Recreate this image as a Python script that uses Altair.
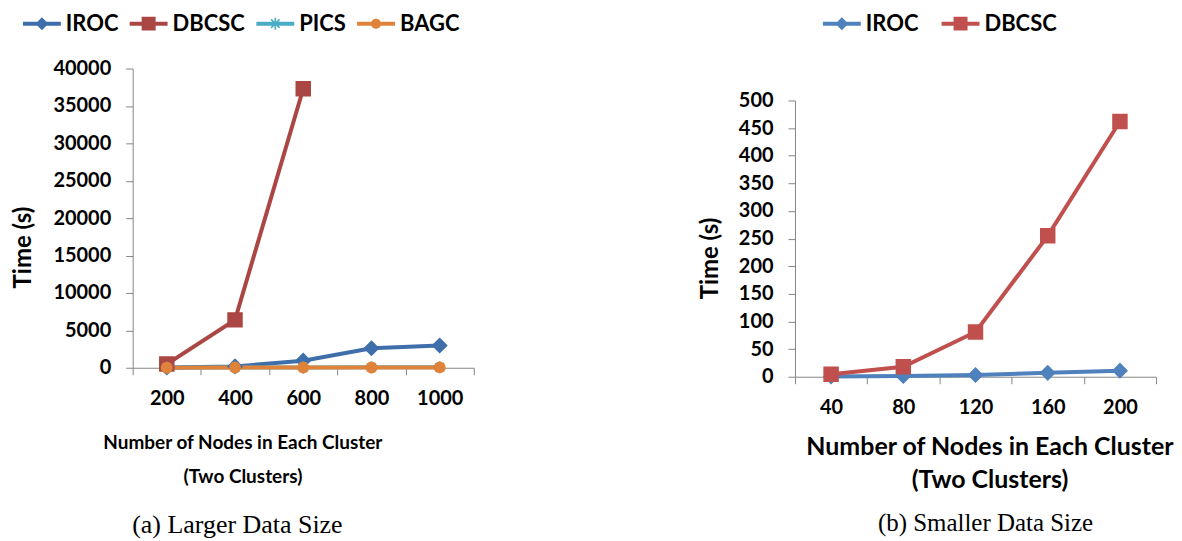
import altair as alt
import pandas as pd

# ---------------- data ----------------
series_left = ["IROC", "DBCSC", "PICS", "BAGC"]
nodes_left = ["200", "400", "600", "800", "1000"]
iroc_left = [50, 180, 950, 2600, 2980]
dbcsc_left = [490, 6400, 37300]
pics_left = [15, 25, 40, 55, 70]
bagc_left = [10, 20, 30, 40, 50]
colors_left = ["#3F6FAA", "#AA4643", "#4BACC6", "#E0833A"]
ticks_left = [0, 5000, 10000, 15000, 20000, 25000, 30000, 35000, 40000]

series_right = ["IROC", "DBCSC"]
nodes_right = ["40", "80", "120", "160", "200"]
iroc_right = [0.5, 1.5, 3, 7, 11]
dbcsc_right = [4.5, 18, 81, 255, 462]
colors_right = ["#4F81BD", "#C0504D"]
ticks_right = [0, 50, 100, 150, 200, 250, 300, 350, 400, 450, 500]

x_title = ["Number of Nodes in Each Cluster", "(Two Clusters)"]
y_title = "Time (s)"
caption_left = "(a) Larger Data Size"
caption_right = "(b) Smaller Data Size"


def rows(nodes, name, values):
    return [{"Nodes": n, "Series": name, "Time": v} for n, v in zip(nodes, values)]


df_left = pd.DataFrame(
    rows(nodes_left, "IROC", iroc_left)
    + rows(nodes_left, "DBCSC", dbcsc_left)
    + rows(nodes_left, "PICS", pics_left)
    + rows(nodes_left, "BAGC", bagc_left)
)
df_right = pd.DataFrame(
    rows(nodes_right, "IROC", iroc_right) + rows(nodes_right, "DBCSC", dbcsc_right)
)

FONT = "Lato"
AXIS_GRAY = "#868686"

# marker shapes for the plot (unit square, scaled by size)
P_DIAMOND = "diamond"
P_SQUARE = "square"
P_ASTER = "M-0.6,-0.6L0.6,0.6M-0.6,0.6L0.6,-0.6M0,-0.85L0,0.85"
P_CIRCLE = "M0.75,0A0.75,0.75,0,1,1,-0.75,0A0.75,0.75,0,1,1,0.75,0Z"
plot_shapes = {"IROC": P_DIAMOND, "DBCSC": P_SQUARE, "PICS": P_ASTER, "BAGC": P_CIRCLE}

# legend symbols: line segment + marker (size 400 -> 1 unit = 10px)
L_LINE = "M-1.9,-0.2L1.9,-0.2L1.9,0.2L-1.9,0.2Z"
L_DIAMOND = L_LINE + "M0,-0.65L0.65,0L0,0.65L-0.65,0Z"
L_SQUARE = L_LINE + "M-0.7,-0.7L0.7,-0.7L0.7,0.7L-0.7,0.7Z"
L_CIRCLE = L_LINE + "M0.5,0A0.5,0.5,0,1,1,-0.5,0A0.5,0.5,0,1,1,0.5,0Z"
L_ASTER = (
    L_LINE
    + "M-0.08,-0.6L0.08,-0.6L0.08,0.6L-0.08,0.6Z"
    + "M-0.367,-0.481L0.481,0.367L0.367,0.481L-0.481,-0.367Z"
    + "M-0.367,0.481L-0.481,0.367L0.367,-0.481L0.481,-0.367Z"
)
legend_shapes = {"IROC": L_DIAMOND, "DBCSC": L_SQUARE, "PICS": L_ASTER, "BAGC": L_CIRCLE}


def panel(df, nodes, series, colors, ticks, width, height, y_range, legend_x, legend_y,
          leg_gap, xt_x, xt_y, xt_size, xt_lh, yt_x, yt_y, label_pad_x, caption, cap_dx,
          cap_off, cap_size):
    x = alt.X(
        "Nodes:N",
        sort=nodes,
        bandPosition=0.5,
        scale=alt.Scale(type="band", domain=nodes, paddingInner=0, paddingOuter=0),
        axis=alt.Axis(
            title=x_title,
            titleFont=FONT, titleFontSize=xt_size, titleFontWeight="bold", titleColor="black",
            titleX=xt_x, titleY=xt_y, titleBaseline="top", titleAlign="center",
            titleLineHeight=xt_lh,
            labelFont=FONT, labelFontSize=20, labelFontWeight="bold", labelColor="black",
            labelAngle=0, labelPadding=label_pad_x,
            tickBand="extent", tickSize=7, tickColor=AXIS_GRAY, domainColor=AXIS_GRAY,
            grid=False,
        ),
    )
    y = alt.Y(
        "Time:Q",
        scale=alt.Scale(domain=[ticks[0], ticks[-1]], nice=False, range=y_range),
        axis=alt.Axis(
            values=ticks, format="d",
            title=y_title,
            titleFont=FONT, titleFontSize=24, titleFontWeight="bold", titleColor="black",
            titleX=yt_x, titleY=yt_y, titleAngle=270, titleBaseline="middle", titleAlign="center",
            labelFont=FONT, labelFontSize=20, labelFontWeight="bold", labelColor="black",
            labelPadding=15, tickSize=7, tickColor=AXIS_GRAY, domainColor=AXIS_GRAY,
            grid=False,
        ),
    )
    col_scale = alt.Scale(domain=series, range=colors)
    shp_plot = alt.Scale(domain=series, range=[plot_shapes[s] for s in series])
    shp_leg = alt.Scale(domain=series, range=[legend_shapes[s] for s in series])

    base = alt.Chart(df)
    lines = base.mark_line(strokeWidth=4).encode(
        x=x, y=y,
        color=alt.Color("Series:N", scale=col_scale, legend=None),
        order=alt.Order("Series:N"),
    )
    points = base.mark_point(filled=True, size=196, strokeWidth=1.5, opacity=1).encode(
        x=x, y=y,
        shape=alt.Shape("Series:N", scale=shp_plot, legend=None),
        fill=alt.Fill("Series:N", scale=col_scale, legend=None),
        stroke=alt.Stroke("Series:N", scale=col_scale, legend=None),
    )
    leg = alt.Legend(
        title=None, orient="none", legendX=legend_x, legendY=legend_y,
        direction="horizontal", symbolSize=400, symbolStrokeWidth=0,
        labelFont=FONT, labelFontSize=22, labelFontWeight="bold", labelColor="black",
        labelOffset=13, columnPadding=leg_gap, padding=0,
    )
    legend_layer = base.transform_filter("datum.Time < -1").mark_point(
        filled=True, opacity=1
    ).encode(
        x=x, y=y,
        shape=alt.Shape("Series:N", scale=shp_leg, legend=leg, sort=series),
        fill=alt.Fill("Series:N", scale=alt.Scale(domain=series, range=colors), legend=leg, sort=series),
    )
    return alt.layer(lines, points, legend_layer).resolve_scale(
        shape="independent", fill="independent", color="independent", stroke="independent"
    ).properties(
        width=width, height=height,
        title=alt.TitleParams(
            caption, orient="bottom", anchor="middle", font="Liberation Serif",
            fontSize=cap_size, fontWeight="normal", color="black", dx=cap_dx, offset=cap_off,
        ),
    )


left = panel(df_left, nodes_left, series_left, colors_left, ticks_left,
             342, 300, [300, 0], -102, -56, 11, 110, 66, 19, 34, -109, 179, 14,
             caption_left, -66, 26, 26)
right = panel(df_right, nodes_right, series_right, colors_right, ticks_right,
              362, 309, [309, 32], 36, -56, 23, 195, 58, 25, 33, -85, 190, 14,
              caption_right, 10, 19, 25)

chart = alt.hconcat(left, right, spacing=224).properties(
    padding={"left": 4, "top": 4, "right": 0, "bottom": 0}
).configure_view(stroke=None)

chart.save("out.html", embed_options={"renderer": "svg", "actions": False})
